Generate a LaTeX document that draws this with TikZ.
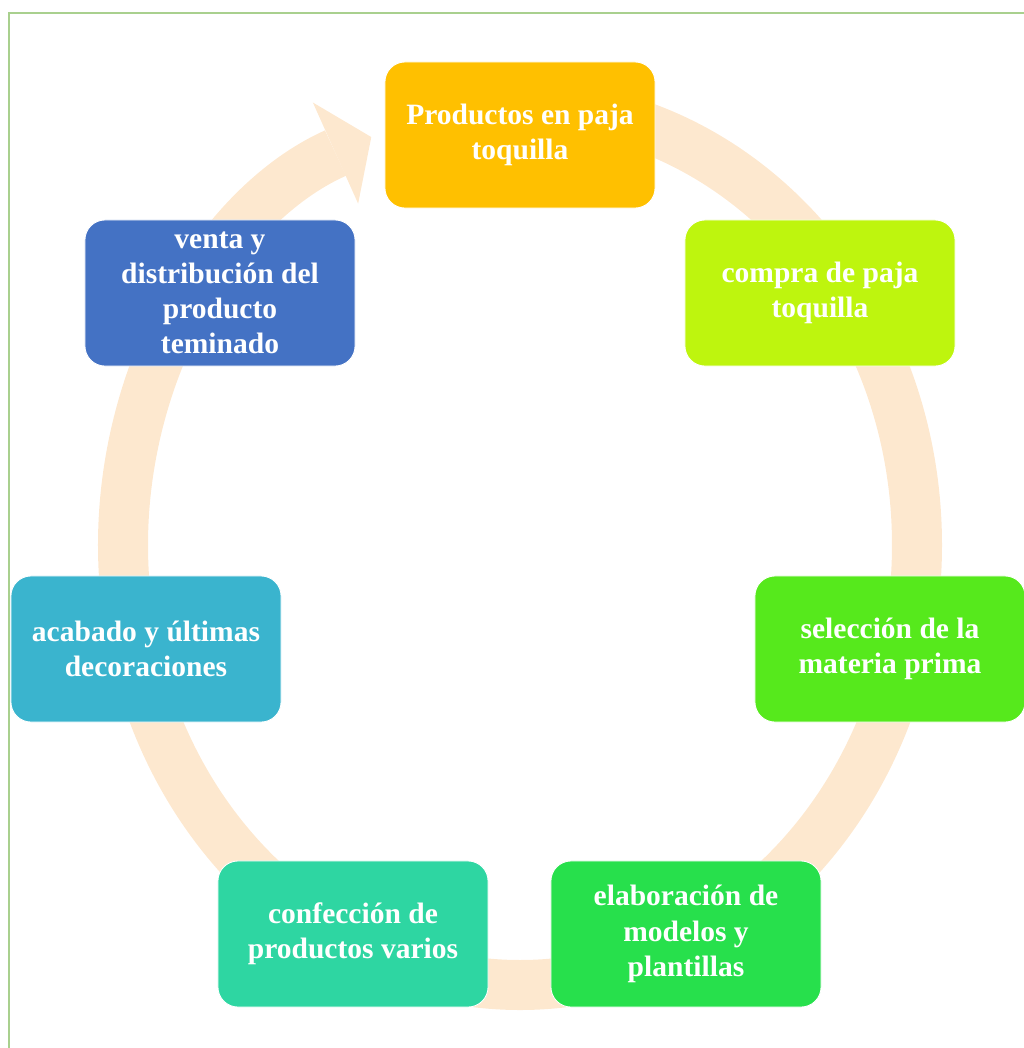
\documentclass[tikz,border=0pt]{standalone}
\usepackage{fontspec}
\setmainfont{Liberation Serif}
\usetikzlibrary{arrows.meta,positioning}
\definecolor{ringpeach}{RGB}{253,232,207}
\definecolor{framegreen}{RGB}{169,208,142}
\definecolor{cprod}{RGB}{255,192,0}
\definecolor{ccompra}{RGB}{190,245,14}
\definecolor{csel}{RGB}{86,233,28}
\definecolor{celab}{RGB}{39,224,76}
\definecolor{cconf}{RGB}{46,214,162}
\definecolor{cacab}{RGB}{58,180,206}
\definecolor{cventa}{RGB}{68,114,196}

\begin{document}
\begin{tikzpicture}[
  x=0.025cm, y=-0.025cm,
  stage/.style={rectangle, rounded corners=0.5cm, draw=white, line width=0.6pt, text=white,
    font=\bfseries\fontsize{21}{25}\selectfont, minimum width=6.75cm, minimum height=3.65cm,
    align=center, inner sep=2pt},
  ring/.style={line width=1.25cm, draw=ringpeach}
]
  \useasboundingbox (0,0) rectangle (1024,1048);
  \clip (0,0) rectangle (1024,1048);
  \draw[framegreen, line width=0.05cm] (9,12.5) rectangle (1060,1080);
  % cycle ring
  \coordinate (ctr) at (520,545);
  \draw[ring, -{Triangle[length=0.98cm, width=2.77cm, line width=0pt]}]
    (ctr) ++(-90:397 and 440) arc[start angle=-90, end angle=248, x radius=397, y radius=440];
  % stages
  \node[stage, fill=cprod]   (prod)   at (520,135) {Productos en paja\\toquilla};
  \node[stage, fill=ccompra] (compra) at (820,293) {compra de paja\\toquilla};
  \node[stage, fill=csel]    (sel)    at (890,649) {selección de la\\materia prima};
  \node[stage, fill=celab]   (elab)   at (686,934) {elaboración de\\modelos y\\plantillas};
  \node[stage, fill=cconf]   (conf)   at (353,934) {confección de\\productos varios};
  \node[stage, fill=cacab]   (acab)   at (146,649) {acabado y últimas\\decoraciones};
  \node[stage, fill=cventa]  (venta)  at (220,293) {venta y\\distribución del\\producto\\teminado};
\end{tikzpicture}
\end{document}
